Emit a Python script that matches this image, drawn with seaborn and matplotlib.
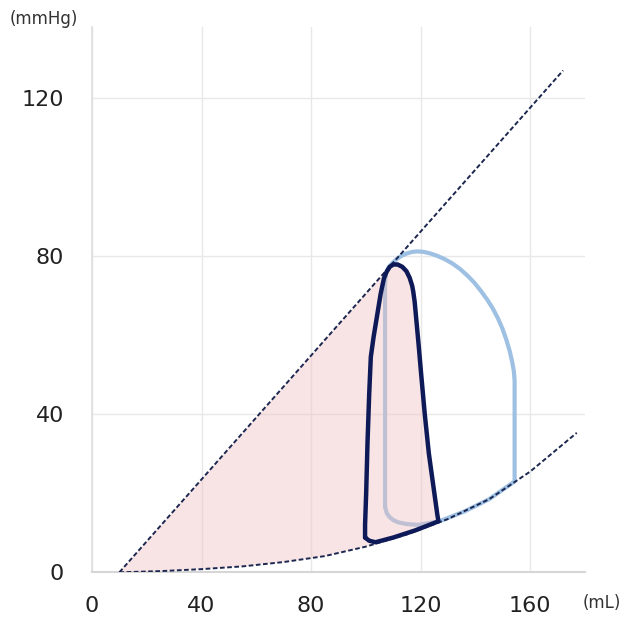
import matplotlib
matplotlib.use("Agg")
import matplotlib.pyplot as plt
import seaborn as sns
import pandas as pd

# ---- data ----
espvr_v = [10, 172]
espvr_p = [0, 127]

edpvr_v = [10, 25, 40, 55, 70, 85, 100, 115, 130, 145, 160, 177]
edpvr_p = [0, 0.3, 0.8, 1.5, 2.6, 4.1, 6.5, 9.6, 13.5, 18.5, 25.5, 35.3]

dark_v = [99.7, 101.2, 103.5, 110, 118, 126.5, 126.1, 124.6, 123, 121.5, 120.2, 119.2,
          118.4, 117.8, 117.3, 116.9, 116.0, 114.8, 113.3, 111.6, 110.0, 108.7,
          107.6, 106.6, 105.4, 104.1, 102.8, 101.8, 101.2, 100.6, 100.1, 99.7, 99.7]
dark_p = [8.8, 8.0, 7.6, 8.8, 10.6, 12.9, 14.5, 22, 30, 40, 50, 58,
          64, 68.5, 71, 72.5, 74.5, 76.2, 77.3, 77.9, 77.9, 77.3,
          76.1, 74.4, 70.5, 65, 59.5, 54.5, 45, 33, 20, 12, 8.8]

light_v = [107, 107.6, 108.6, 110, 112, 115, 119, 126.8, 136, 145, 154.3,
           154.3, 154.0, 153.4, 152.5, 151.3, 149.9, 148.2, 146.3, 144.3, 142,
           139.7, 137.2, 134.5, 131.5, 128.6, 126, 123.5, 121, 119, 117, 115,
           113, 111.5, 110, 108.3, 107.3, 107, 107]
light_p = [16.6, 15.0, 14.0, 13.2, 12.6, 12.2, 12.0, 12.9, 15.4, 18.5, 23.0,
           48.5, 51, 53.3, 56, 58.8, 61.6, 64.3, 66.8, 69, 71.2,
           73.2, 75, 76.7, 78.2, 79.3, 80.1, 80.7, 81.1, 81.2, 81.1, 80.7,
           80.1, 79.4, 78.5, 77.2, 75.5, 73, 16.6]

# pink region: under ESPVR up to the dark loop, down the dark loop's right edge, above EDPVR
fill_v = [10, 107.0, 107.6, 108.7, 110.0, 111.6, 113.3, 114.8, 116.0, 116.9, 117.3,
          117.8, 118.4, 119.2, 120.2, 121.5, 123, 124.6, 126.1, 126.5,
          115, 100, 85, 70, 55, 40, 25, 10]
fill_p = [0, 76.0, 76.1, 77.3, 77.9, 77.9, 77.3, 76.2, 74.5, 72.5, 71,
          68.5, 64, 58, 50, 40, 30, 22, 14.5, 12.9,
          9.6, 6.5, 4.1, 2.6, 1.5, 0.8, 0.3, 0]

x_ticks = [0, 40, 80, 120, 160]
y_ticks = [0, 40, 80, 120]

# ---- style ----
sns.set_theme(style="whitegrid")
plt.rcParams["font.family"] = ["DejaVu Sans"]

W, H = 633, 622
fig = plt.figure(figsize=(W / 100, H / 100), dpi=100)
ax = fig.add_axes([92 / W, (H - 572.3) / H, (585 - 92) / W, (572.3 - 27) / H])
ax.set_facecolor("white")

grid_c = "#e8e8e8"
ax.grid(True, color=grid_c, linewidth=1.0)
for s in ["top", "right"]:
    ax.spines[s].set_visible(False)
ax.spines["left"].set_color("#dedede")
ax.spines["bottom"].set_color("#d6d6d6")
ax.spines["left"].set_linewidth(1.2)
ax.spines["bottom"].set_linewidth(1.5)

dash = (0, (2.4, 1.3))
navy_dash = "#1c2750"

# light loop (drawn first, pink overlays part of it)
df_light = pd.DataFrame({"v": light_v, "p": light_p})
sns.lineplot(data=df_light, x="v", y="p", sort=False, estimator=None, ax=ax,
             color="#9dc0e3", linewidth=3.0, zorder=2)

# pink fill
ax.fill(fill_v, fill_p, color="#f0c0c0", alpha=0.42, linewidth=0, zorder=3)

# dashed ESPVR / EDPVR
df_es = pd.DataFrame({"v": espvr_v, "p": espvr_p})
df_ed = pd.DataFrame({"v": edpvr_v, "p": edpvr_p})
sns.lineplot(data=df_es, x="v", y="p", sort=False, estimator=None, ax=ax,
             color=navy_dash, linewidth=1.4, linestyle=dash, zorder=4)
sns.lineplot(data=df_ed, x="v", y="p", sort=False, estimator=None, ax=ax,
             color=navy_dash, linewidth=1.4, linestyle=dash, zorder=4)

# dark loop
df_dark = pd.DataFrame({"v": dark_v, "p": dark_p})
sns.lineplot(data=df_dark, x="v", y="p", sort=False, estimator=None, ax=ax,
             color="#0e1a58", linewidth=3.2, zorder=5)

ax.set_xlim(0, 180)
ax.set_ylim(0, 138)
ax.set_xticks(x_ticks)
ax.set_yticks(y_ticks)
ax.set_xticklabels([str(t) for t in x_ticks])
ax.set_yticklabels([str(t) for t in y_ticks])
ax.tick_params(axis="x", length=0, pad=17, labelsize=16, labelcolor="#222222")
ax.tick_params(axis="y", length=0, pad=20, labelsize=16, labelcolor="#222222")
ax.set_xlabel("")
ax.set_ylabel("")

fig.text(10 / W, 1 - 19 / H, "(mmHg)", fontsize=12, color="#333333",
         ha="left", va="center")
fig.text(602 / W, 1 - 603 / H, "(mL)", fontsize=12, color="#333333",
         ha="center", va="center")

fig.savefig("out.png", dpi=100, facecolor="white")
